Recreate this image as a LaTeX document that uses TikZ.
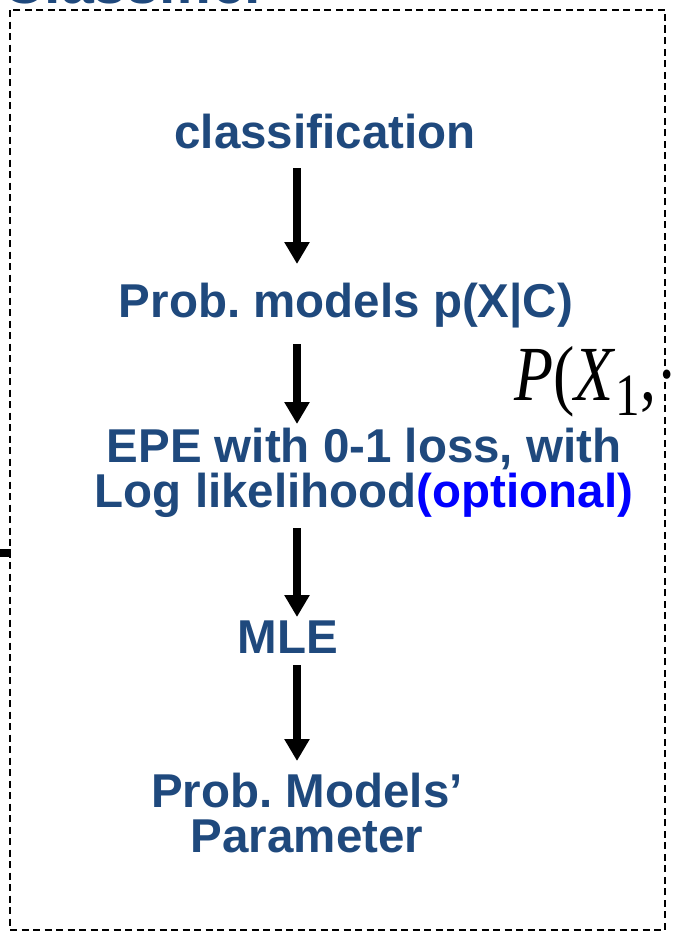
\documentclass[tikz,border=0pt]{standalone}
\usepackage{fontspec}
\setmainfont{Liberation Sans}
\newfontfamily\timesfont{Liberation Serif}
\usetikzlibrary{arrows.meta}
\frenchspacing
\definecolor{deepblue}{RGB}{31,73,125}
\definecolor{brightblue}{RGB}{0,0,255}
\tikzset{
  steptext/.style={font=\fontsize{47.5}{45}\selectfont\bfseries, text=deepblue,
    align=center, inner sep=0pt, anchor=base},
  flowarrow/.style={line width=8pt, -{Triangle[width=24pt,length=22pt]}},
  frame/.style={draw=black, line width=2pt, dash pattern=on 7pt off 4.5pt},
}
\begin{document}
\begin{tikzpicture}[x=1pt,y=-1pt]
  \useasboundingbox (0,0) rectangle (672,937);
  \begin{scope}
    \clip (0,0) rectangle (672,937);
    % title above the frame, only its lower edge is visible
    \node[font=\fontsize{59}{59}\selectfont\bfseries, text=deepblue,
      inner sep=0pt, anchor=base east] (title) at (268,3) {Classifier};
    % formula running past the right edge
    \node[font=\timesfont, inner sep=0pt, anchor=base west] (formula) at (514,400)
      {\scalebox{0.82}[1]{\fontsize{78}{78}\selectfont\textit{P}(\textit{X}\raisebox{-0.2em}{\fontsize{60}{60}\selectfont 1},·}};
  \end{scope}

  % dashed frame
  \draw[frame] (10,10) rectangle (665,930);

  % incoming connector stub on the left
  \coordinate (stubA) at (0,553);
  \coordinate (stubB) at (11,553);
  \draw[line width=8pt] (stubA) -- (stubB);

  % steps
  \node[steptext] (cls) at (325,148) {classification};
  \node[steptext] (pm) at (346,317) {Prob. models p(X|C)};
  \node[steptext] (epe) at (364,507) {EPE with 0-1 loss, with\\Log likelihood\textcolor{brightblue}{(optional)}};
  \node[steptext] (mle) at (288,653) {MLE};
  \node[steptext] (par) at (307,852) {Prob. Models’\\Parameter};

  % arrows between steps
  \coordinate (a1s) at (297,168); \coordinate (a1e) at (297,264);
  \coordinate (a2s) at (297,344); \coordinate (a2e) at (297,424);
  \coordinate (a3s) at (297,528); \coordinate (a3e) at (297,617);
  \coordinate (a4s) at (297,665); \coordinate (a4e) at (297,761);
  \draw[flowarrow] (a1s) -- (a1e);
  \draw[flowarrow] (a2s) -- (a2e);
  \draw[flowarrow] (a3s) -- (a3e);
  \draw[flowarrow] (a4s) -- (a4e);
\end{tikzpicture}
\end{document}
